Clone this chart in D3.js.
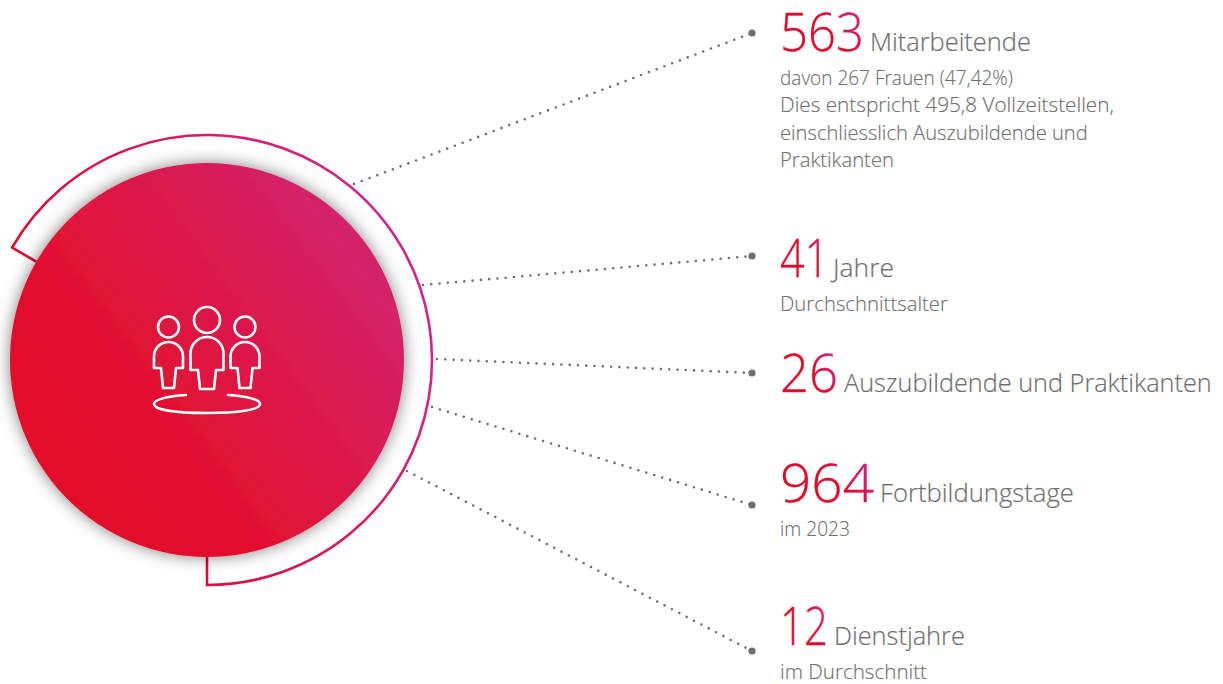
<!DOCTYPE html>
<html>
<head>
<meta charset="utf-8">
<script src="https://cdn.jsdelivr.net/npm/d3@7"></script>
<style>
html, body { margin: 0; padding: 0; background: #fff; }
svg { display: block; }
text { font-family: "Open Sans", sans-serif; font-weight: 300; font-variant-ligatures: none; }
</style>
</head>
<body>
<div id="chart"></div>
<script>
const values = [563, 41, 26, 964, 12];
const labels = ["Mitarbeitende", "Jahre", "Auszubildende und Praktikanten", "Fortbildungstage", "Dienstjahre"];
const details = [
    ["davon 267 Frauen (47,42%)", "Dies entspricht 495,8 Vollzeitstellen,", "einschliesslich Auszubildende und", "Praktikanten"],
    ["Durchschnittsalter"],
    [],
    ["im 2023"],
    ["im Durchschnitt"]
];

const width = 1223, height = 684;
const cx = 207, cy = 360, r = 197, ringR = 225;

// layout of the rows
const dotY = [33, 256, 373, 505, 651];
const lineStart = [[354, 184], [423, 285], [437, 359], [432, 407], [407, 471]];
const baseline = [51, 277, 392, 502, 645];
const detailY = [85, 311, 0, 536, 679];
const numberWidth = [84, 49, 58, 94, 48];
const labelX = [870, 833, 844, 880, 834];
const labelWidth = [161, 61, 368, 194, 131];
const detailWidth = [
    [233, 334, 308, 114],
    [168],
    [],
    [70],
    [147]
];
const dotX = 752, textX = 780;

const svg = d3.select("#chart").append("svg")
    .attr("width", width)
    .attr("height", height);

const defs = svg.append("defs");

function addGradient(id, units, x1, y1, x2, y2, stops) {
    const g = defs.append("linearGradient")
        .attr("id", id)
        .attr("gradientUnits", units)
        .attr("x1", x1).attr("y1", y1)
        .attr("x2", x2).attr("y2", y2);
    stops.forEach(s => g.append("stop").attr("offset", s[0]).attr("stop-color", s[1]));
}

addGradient("disc", "userSpaceOnUse", cx - 150, cy + 120, cx + 170, cy - 120, [[0, "#e3072a"], [0.3, "#e2102f"], [1, "#d3246f"]]);
addGradient("ring", "userSpaceOnUse", cx - 100, cy + 120, cx + 225, cy - 30, [[0, "#e3072a"], [1, "#d3248a"]]);
addGradient("num", "objectBoundingBox", 0, 1, 1, 0.3, [[0, "#e3072a"], [0.62, "#e3072a"], [1, "#d3248a"]]);

const blur = defs.append("filter")
    .attr("id", "shadow")
    .attr("x", "-20%").attr("y", "-20%")
    .attr("width", "140%").attr("height", "140%");
blur.append("feDropShadow")
    .attr("dx", 0).attr("dy", 0)
    .attr("stdDeviation", 8)
    .attr("flood-color", "#000")
    .attr("flood-opacity", 0.5);

// outer ring, open between the lower left and the start at upper left
const startA = Math.atan2(-113, -196), endA = Math.PI / 2;
const point = (a, rad) => [cx + rad * Math.cos(a), cy + rad * Math.sin(a)];
const [sx, sy] = point(startA, ringR), [ix, iy] = point(startA, r);
const [ex, ey] = point(endA, ringR), [jx, jy] = point(endA, r);
svg.append("path")
    .attr("d", `M${ix},${iy}L${sx},${sy}A${ringR},${ringR} 0 1 1 ${ex},${ey}L${jx},${jy}`)
    .attr("fill", "none")
    .attr("stroke", "url(#ring)")
    .attr("stroke-width", 2.6);

svg.append("circle")
    .attr("cx", cx).attr("cy", cy).attr("r", r)
    .attr("fill", "url(#disc)")
    .attr("filter", "url(#shadow)");

// people icon
const icon = svg.append("g")
    .attr("transform", `translate(${cx},${cy})`)
    .attr("fill", "none")
    .attr("stroke", "#fff")
    .attr("stroke-width", 2.6)
    .attr("stroke-linejoin", "round")
    .attr("stroke-linecap", "round");

function person(x, headY, headR, w, top, shoulder, leg, bottom) {
    const g = icon.append("g").attr("transform", `translate(${x},0)`);
    g.append("circle").attr("cy", headY).attr("r", headR);
    g.append("path").attr("d", `M${-w},${shoulder}V${top + w}A${w},${w} 0 0 1 ${w},${top + w}V${shoulder}H${leg + 2}L${leg},${bottom}H${-leg}L${-leg - 2},${shoulder}Z`);
}
person(-38.5, -33, 10.5, 14.5, -18, 8, 5.5, 28);
person(0, -40, 13, 16.5, -23, 10, 7, 29);
person(38, -33, 10.5, 14.5, -18, 8, 5.5, 28);
icon.append("path")
    .attr("d", "M-21,35C-41,36 -53,40 -53,44C-53,50 -30,53 0,53C30,53 53,50 53,44C53,40 41,36 21,35");

// dotted leader lines with their end dots
const rows = svg.selectAll("g.row")
    .data(values.map((v, i) => ({ value: v, i })))
    .join("g")
    .attr("class", "row");

rows.append("line")
    .attr("x1", d => lineStart[d.i][0]).attr("y1", d => lineStart[d.i][1])
    .attr("x2", dotX).attr("y2", d => dotY[d.i])
    .attr("stroke", "#706f6f")
    .attr("stroke-width", 2.6)
    .attr("stroke-linecap", "round")
    .attr("stroke-dasharray", "0 8.3");

rows.append("circle")
    .attr("cx", dotX).attr("cy", d => dotY[d.i]).attr("r", 3.6)
    .attr("fill", "#706f6f");

// the original face is narrower than Open Sans, so squeeze each text to its measured width
function fitText(sel, x, y, w) {
    sel.attr("transform", function (d, i) {
        const sx = w(d, i) / this.getComputedTextLength();
        return `translate(${x(d, i)},${y(d, i)}) scale(${sx},1)`;
    });
}

// big number and its label on one baseline
rows.append("text")
    .attr("font-size", 54)
    .attr("fill", "url(#num)")
    .attr("stroke", "url(#num)")
    .attr("stroke-width", 0.3)
    .text(d => d.value)
    .call(fitText, () => textX, d => baseline[d.i], d => numberWidth[d.i]);

rows.append("text")
    .attr("font-size", 25)
    .attr("fill", "#706f6f")
    .attr("stroke", "#706f6f")
    .attr("stroke-width", 0.2)
    .text(d => labels[d.i])
    .call(fitText, d => labelX[d.i], d => baseline[d.i], d => labelWidth[d.i]);

rows.each(function (d) {
    d3.select(this).selectAll("text.detail")
        .data(details[d.i])
        .join("text")
        .attr("class", "detail")
        .attr("font-size", 20)
        .attr("fill", "#706f6f")
        .attr("stroke", "#706f6f")
        .attr("stroke-width", 0.15)
        .text(t => t)
        .call(fitText, () => textX, (_, i) => detailY[d.i] + i * 27.3, (_, i) => detailWidth[d.i][i]);
});
</script>
</body>
</html>
